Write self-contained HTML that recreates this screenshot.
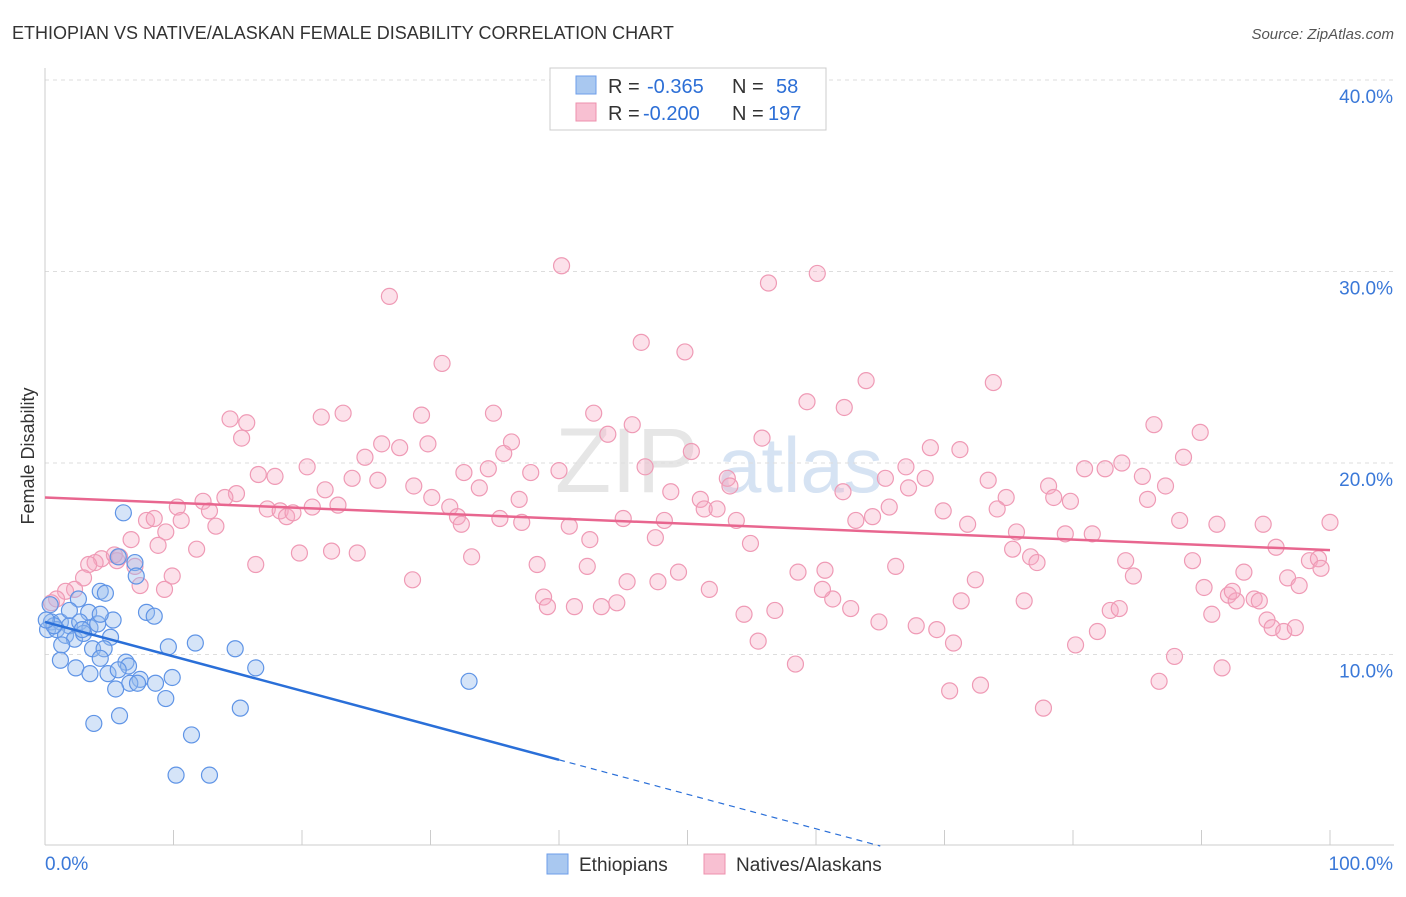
<!DOCTYPE html>
<html><head><meta charset="utf-8">
<style>
body{margin:0;background:#fff;font-family:"Liberation Sans",sans-serif;}
svg text{font-family:"Liberation Sans",sans-serif;}
</style></head>
<body>
<svg id="chart" width="1406" height="892" xmlns="http://www.w3.org/2000/svg">
<text x="12" y="39" font-size="18" fill="#333">ETHIOPIAN VS NATIVE/ALASKAN FEMALE DISABILITY CORRELATION CHART</text>
<text x="1394" y="39" font-size="15" fill="#555" text-anchor="end" font-style="italic">Source: ZipAtlas.com</text>
<text x="555" y="492" font-size="92" fill="#e6e6e6" font-family="Liberation Serif">ZIP</text>
<text x="718" y="492" font-size="78" fill="#d6e3f3">atlas</text>
<g id="grid"></g>
<g id="axes"></g>
<g id="pts"></g>
<g id="lines"></g>
<text transform="translate(34,456) rotate(-90)" font-size="18" fill="#333" text-anchor="middle">Female Disability</text>
<g>
<rect x="550" y="68" width="276" height="62" fill="#fff" stroke="#ccc"/>
<rect x="576" y="76" width="20" height="18" fill="#a9c8f0" stroke="#6d9eea"/>
<rect x="576" y="103" width="20" height="18" fill="#f8c0d2" stroke="#ee90ad"/>
<text x="608" y="93" font-size="20" fill="#333">R =</text>
<text x="647" y="93" font-size="20" fill="#2d6fd6">-0.365</text>
<text x="732" y="93" font-size="20" fill="#333">N =</text>
<text x="776" y="93" font-size="20" fill="#2d6fd6">58</text>
<text x="608" y="120" font-size="20" fill="#333">R =</text>
<text x="643" y="120" font-size="20" fill="#2d6fd6">-0.200</text>
<text x="732" y="120" font-size="20" fill="#333">N =</text>
<text x="768" y="120" font-size="20" fill="#2d6fd6">197</text>
</g>
<g>
<rect x="547" y="854" width="21" height="20" fill="#a9c8f0" stroke="#6d9eea"/>
<text x="579" y="871" font-size="19" fill="#333">Ethiopians</text>
<rect x="704" y="854" width="21" height="20" fill="#f8c0d2" stroke="#ee90ad"/>
<text x="736" y="871" font-size="19" fill="#333">Natives/Alaskans</text>
</g>
</svg>
<script>
const blueX=[6.1,5.7,7.0,7.1,4.3,4.7,2.6,5.3,3.4,7.9,8.5,0.4,0.5,0.2,1.2,1.9,2.7,3.5,4.1,0.9,1.6,2.3,3.0,5.1,1.3,3.7,4.6,9.6,11.7,14.8,4.3,6.3,2.4,3.5,4.9,6.5,5.7,16.4,7.4,8.6,9.9,6.6,5.5,7.2,9.4,33.0,15.2,5.8,3.8,11.4,10.2,12.8,1.2,4.3,2.9,1.9,0.7,0.1];
const blueY=[17.4,15.1,14.8,14.1,13.3,13.2,12.9,11.8,12.2,12.2,12.0,12.6,11.7,11.3,11.7,11.5,11.7,11.4,11.6,11.3,11.0,10.8,11.1,10.9,10.5,10.3,10.3,10.4,10.6,10.3,9.8,9.6,9.3,9.0,9.0,9.4,9.2,9.3,8.7,8.5,8.8,8.5,8.2,8.5,7.7,8.6,7.2,6.8,6.4,5.8,3.7,3.7,9.7,12.1,11.3,12.3,11.5,11.8];
const pinkX=[40.2,60.1,56.3,26.8,46.4,49.8,30.9,63.9,73.8,59.3,62.2,14.4,15.7,21.5,23.2,29.3,34.9,42.7,45.7,86.3,89.9,15.3,26.2,27.6,29.8,36.3,43.8,55.8,68.9,88.6,24.9,35.7,50.3,16.6,17.9,20.4,32.6,34.5,37.8,40.0,46.7,53.1,67.0,71.2,80.9,82.5,83.8,85.4,87.2,85.8,14.9,14.0,12.3,10.3,21.8,23.9,25.9,28.7,30.1,33.8,36.9,48.7,51.0,53.3,62.1,65.4,67.2,68.5,73.4,74.8,78.1,78.5,79.8,7.9,8.5,6.7,9.4,10.6,12.8,13.3,17.3,18.3,18.8,19.3,20.8,22.8,31.5,32.1,32.4,35.4,37.1,40.8,42.4,45.0,47.5,48.2,51.3,52.3,53.8,54.9,63.1,64.4,65.7,69.9,71.8,74.1,75.6,79.4,81.5,88.3,91.2,94.8,100,8.8,11.8,19.8,22.3,24.3,33.2,38.3,42.2,45.3,47.7,49.3,51.7,58.6,60.7,66.2,72.4,75.3,76.7,77.2,84.1,84.7,89.3,95.8,98.4,99.1,99.3,96.7,97.6,93.3,90.2,16.4,5.6,4.4,3.9,3.4,5.4,7.0,3.0,7.4,9.3,9.9,2.3,1.6,0.9,0.5,5.8,28.6,38.8,39.1,41.2,43.3,44.5,61.3,60.5,71.3,76.2,82.9,83.6,92.1,92.7,94.1,94.5,92.4,95.1,95.5,96.4,97.3,90.8,56.8,54.4,62.7,64.9,67.8,69.4,81.9,55.5,70.7,80.2,58.4,87.9,91.6,70.4,72.8,86.7,77.7];
const pinkY=[30.3,29.9,29.4,28.7,26.3,25.8,25.2,24.3,24.2,23.2,22.9,22.3,22.1,22.4,22.6,22.5,22.6,22.6,22.0,22.0,21.6,21.3,21.0,20.8,21.0,21.1,21.5,21.3,20.8,20.3,20.3,20.5,20.6,19.4,19.3,19.8,19.5,19.7,19.5,19.6,19.8,19.2,19.8,20.7,19.7,19.7,20.0,19.3,18.8,18.1,18.4,18.2,18.0,17.7,18.6,19.2,19.1,18.8,18.2,18.7,18.1,18.5,18.1,18.8,18.5,19.2,18.7,19.2,19.1,18.2,18.8,18.2,18.0,17.0,17.1,16.0,16.4,17.0,17.5,16.7,17.6,17.5,17.2,17.4,17.7,17.8,17.7,17.2,16.8,17.1,16.9,16.7,16.0,17.1,16.1,17.0,17.6,17.6,17.0,15.8,17.0,17.2,17.7,17.5,16.8,17.6,16.4,16.3,16.3,17.0,16.8,16.8,16.9,15.7,15.5,15.3,15.4,15.3,15.1,14.7,14.6,13.8,13.8,14.3,13.4,14.3,14.4,14.6,13.9,15.5,15.1,14.8,14.9,14.1,14.9,15.6,14.9,15.0,14.5,14.0,13.6,14.3,13.5,14.7,14.9,15.0,14.8,14.7,15.2,14.6,14.0,13.6,13.4,14.1,13.4,13.3,12.9,12.7,15.1,13.9,13.0,12.5,12.5,12.5,12.7,12.9,13.4,12.8,12.8,12.3,12.4,13.1,12.8,12.9,12.8,13.3,11.8,11.4,11.2,11.4,12.1,12.3,12.1,12.4,11.7,11.5,11.3,11.2,10.7,10.6,10.5,9.5,9.9,9.3,8.1,8.4,8.6,7.2];
const yTicks=[10,20,30,40];
const yTickLabels=["10.0%","20.0%","30.0%","40.0%"];
const xTickVals=[0,10,20,30,40,50,60,70,80,90,100];
const blueTrend=[11.7,-0.18];
const pinkTrend=[18.2,-0.0275];

const X0=45,X1=1330,YB=846,PX=19.15;
const xs=v=>X0+(X1-X0)*v/100;
const ys=v=>YB-v*PX;
const NS="http://www.w3.org/2000/svg";
function mk(tag,attrs,parent){const e=document.createElementNS(NS,tag);for(const k in attrs)e.setAttribute(k,attrs[k]);parent.appendChild(e);return e;}
const grid=document.getElementById('grid'),axes=document.getElementById('axes'),pts=document.getElementById('pts'),lines=document.getElementById('lines');
yTicks.forEach((t,i)=>{
  const l=mk('line',{x1:X0,x2:1394,y1:ys(t),y2:ys(t),stroke:'#ddd','stroke-dasharray':'4,4'},grid);
  
  
  const tx=mk('text',{x:1393,y:ys(t)+23,'font-size':19,fill:'#3a78d8','text-anchor':'end'},axes);
  tx.textContent=yTickLabels[i];
  
  
});
const ya=mk('line',{x1:X0,x2:X0,y1:68,y2:845,stroke:'#ccc'},axes);


const xa=mk('line',{x1:X0,x2:1394,y1:845,y2:845,stroke:'#ccc'},axes);


xTickVals.forEach(v=>{
  const t=mk('line',{x1:xs(v),x2:xs(v),y1:830,y2:845,stroke:'#ccc'},axes);
  
  
});
const xl0=mk('text',{x:45,y:870,'font-size':19,fill:'#3a78d8'},axes);xl0.textContent='0.0%';


const xl1=mk('text',{x:1393,y:870,'font-size':19,fill:'#3a78d8','text-anchor':'end'},axes);xl1.textContent='100.0%';



pinkX.forEach((x,i)=>{
  const c=mk('circle',{cx:xs(x),cy:ys(pinkY[i]),r:8,fill:'rgba(246,170,195,0.35)',stroke:'#ef9ab5','stroke-width':1.2},pts);
  
  
});
blueX.forEach((x,i)=>{
  const c=mk('circle',{cx:xs(x),cy:ys(blueY[i]),r:8,fill:'rgba(150,188,238,0.4)',stroke:'#5f94e6','stroke-width':1.2},pts);
  
  
});
const bl=v=>blueTrend[0]+blueTrend[1]*v;
const b1=mk('line',{x1:xs(0),y1:ys(bl(0)),x2:xs(40),y2:ys(bl(40)),stroke:'#2a6fd8','stroke-width':2.5},lines);


const xEnd=(0-blueTrend[0])/blueTrend[1];
const b2=mk('line',{x1:xs(40),y1:ys(bl(40)),x2:xs(xEnd),y2:ys(0),stroke:'#2a6fd8','stroke-width':1.2,'stroke-dasharray':'6,5'},lines);


const pl=v=>pinkTrend[0]+pinkTrend[1]*v;
const p1=mk('line',{x1:xs(0),y1:ys(pl(0)),x2:xs(100),y2:ys(pl(100)),stroke:'#e8668f','stroke-width':2.5},lines);


</script>
</body></html>
